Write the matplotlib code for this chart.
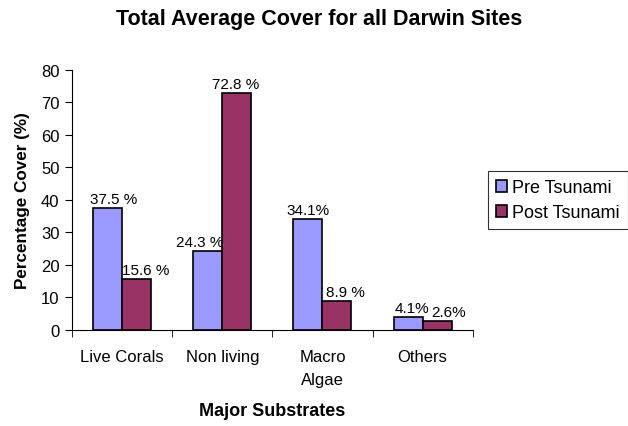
import numpy as np
import matplotlib.pyplot as plt

plt.rcParams['font.family'] = ['Liberation Sans', 'DejaVu Sans']

categories = ['Live Corals', 'Non living', 'Macro\nAlgae', 'Others']
pre = [37.5, 24.3, 34.1, 4.1]
post = [15.6, 72.8, 8.9, 2.6]
pre_labels = ['37.5 %', '24.3 %', '34.1%', '4.1%']
post_labels = ['15.6 %', '72.8 %', '8.9 %', '2.6%']

# horizontal nudges of the value labels (points), as placed in the original
pre_dx = [4.5, -6, 0, 3]
post_dx = [6.5, -1, 6, 8]

fig = plt.figure(figsize=(6.28, 4.27), dpi=100)
ax = fig.add_axes([0.1147, 0.225, 0.638, 0.609])

x = np.arange(len(categories))
w = 0.29
b1 = ax.bar(x - w / 2, pre, w, color='#9999FF', edgecolor='black', linewidth=1.2,
            label='Pre Tsunami')
b2 = ax.bar(x + w / 2, post, w, color='#993366', edgecolor='black', linewidth=1.2,
            label='Post Tsunami')

for bars, labs, dxs in ((b1, pre_labels, pre_dx), (b2, post_labels, post_dx)):
    for r, t, dx in zip(bars, labs, dxs):
        ax.annotate(t, (r.get_x() + r.get_width() / 2, r.get_height()),
                    xytext=(dx, 1.5), textcoords='offset points',
                    ha='center', va='bottom', fontsize=11)

ax.set_xlim(-0.5, 3.5)
ax.set_ylim(0, 80)
ax.set_yticks(range(0, 81, 10))
ax.tick_params(axis='y', labelsize=12, length=5, direction='out', pad=4)
ax.set_xticks(x)
ax.set_xticklabels(categories, fontsize=12, linespacing=1.65, va='top')
ax.tick_params(axis='x', length=0, pad=14)
ax.set_xticks(np.arange(-0.5, 3.6, 1), minor=True)
ax.tick_params(axis='x', which='minor', length=5, direction='out')
ax.spines['top'].set_visible(False)
ax.spines['right'].set_visible(False)

ax.set_ylabel('Percentage Cover (%)', fontsize=12.3, fontweight='bold', labelpad=8)
ax.set_xlabel('Major Substrates', fontsize=13, fontweight='bold', labelpad=11)
fig.suptitle('Total Average Cover for all Darwin Sites', fontsize=15.5,
             fontweight='bold', x=0.508, y=0.978)

leg = fig.legend(loc='upper left', bbox_to_anchor=(0.777, 0.597), fontsize=13,
                 frameon=True, fancybox=False, edgecolor='black', handlelength=0.6,
                 handleheight=0.6, handletextpad=0.3, borderpad=0.45,
                 labelspacing=0.45, borderaxespad=0)
leg.get_frame().set_linewidth(0.8)

fig.savefig('out.png', dpi=100)
